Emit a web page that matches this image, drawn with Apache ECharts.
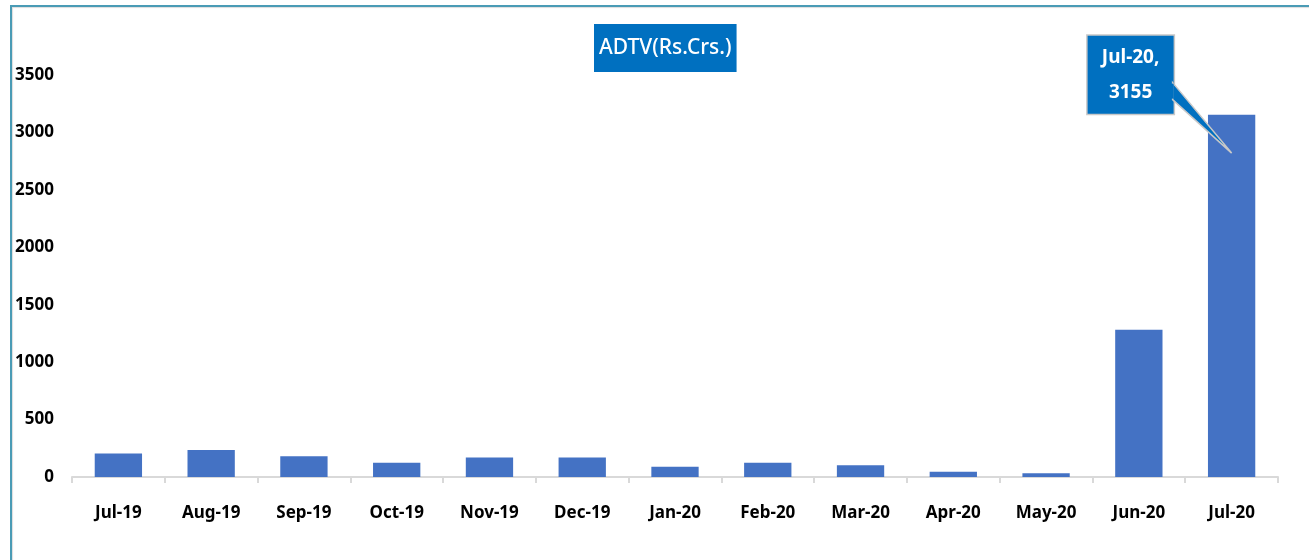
<!DOCTYPE html>
<html>
<head>
<meta charset="utf-8">
<title>ADTV</title>
<script src="https://cdn.jsdelivr.net/npm/echarts@6/dist/echarts.min.js"></script>
<style>
  html, body { margin: 0; padding: 0; background: #fff; }
  #frame {
    position: absolute; left: 0; top: 0; width: 1309px; height: 560px;
    box-sizing: border-box;
  }
  #frame::before {
    content: ''; position: absolute; left: 10px; top: 5px; right: 0; bottom: 0;
    border-left: 2px solid #4a9bb5; border-top: 2px solid #4a9bb5;
    box-shadow: inset 1px 1px 1px #ddd;
  }
  #chart { position: absolute; left: 0; top: 0; width: 1309px; height: 560px; }
</style>
</head>
<body>
<div id="frame"></div>
<div id="chart"></div>
<script>
  // 数据
  const months = ['Jul-19', 'Aug-19', 'Sep-19', 'Oct-19', 'Nov-19', 'Dec-19', 'Jan-20',
    'Feb-20', 'Mar-20', 'Apr-20', 'May-20', 'Jun-20', 'Jul-20']
  const adtv = [205, 235, 180, 125, 170, 170, 90, 125, 102, 46, 32, 1283, 3155]
  const yTicks = [0, 500, 1000, 1500, 2000, 2500, 3000, 3500]

  const chart = echarts.init(document.getElementById('chart'))
  const labelFont = '"Noto Sans", sans-serif'
  const last = adtv.length - 1

  const option = {
    animation: false,
    title: {
      text: 'ADTV(Rs.Crs.)',
      left: 594,
      top: 24,
      padding: [13, 5, 12, 5],
      backgroundColor: '#0070c0',
      textStyle: { color: '#fff', fontSize: 21, fontWeight: 500, fontFamily: labelFont, lineHeight: 23 }
    },
    grid: { left: 72, right: 31, top: 75, bottom: 83 },
    xAxis: {
      type: 'category',
      data: months,
      axisLine: { lineStyle: { color: '#d9d9d9', width: 2 } },
      axisTick: { show: true, length: 6, lineStyle: { color: '#d9d9d9', width: 2 } },
      axisLabel: { color: '#000', fontSize: 17, fontWeight: 'bold', fontFamily: labelFont, margin: 28 }
    },
    yAxis: {
      type: 'value',
      min: yTicks[0],
      max: yTicks[yTicks.length - 1],
      interval: 500,
      splitLine: { show: false },
      axisLine: { show: false },
      axisTick: { show: false },
      axisLabel: {
        color: '#000', fontSize: 17, fontWeight: 'bold', fontFamily: labelFont, margin: 18,
        formatter: v => String(v)
      }
    },
    series: [{
      type: 'bar',
      barWidth: '51%',
      itemStyle: { color: '#4472c4' },
      data: adtv.map((v, i) => i === last ? {
        value: v,
        label: {
          show: true,
          position: 'top',
          distance: 1,
          offset: [-101, 0],
          formatter: '{b},\n{c}',
          color: '#fff',
          fontSize: 19,
          fontWeight: 'bold',
          fontFamily: labelFont,
          lineHeight: 35,
          align: 'center',
          backgroundColor: '#0070c0',
          borderColor: '#c8c8c8',
          borderWidth: 1.5,
          padding: [4, 13, 4, 13],
          width: 60
        }
      } : v)
    }]
  }

  chart.setOption(option)

  // 标注气泡的尖角
  const barTop = chart.convertToPixel({ seriesIndex: 0 }, [months[last], adtv[last]])
  const tip = chart.convertToPixel({ seriesIndex: 0 }, [months[last], 2820])
  const boxRight = barTop[0] - 59
  chart.setOption({
    graphic: [{
      type: 'polygon',
      z: 100,
      shape: { points: [[boxRight, barTop[1] - 32], [tip[0], tip[1]], [boxRight, barTop[1] - 15]] },
      style: { fill: '#0070c0', stroke: '#c8c8c8', lineWidth: 1.5 }
    }, {
      type: 'rect',
      z: 101,
      shape: { x: boxRight - 2, y: barTop[1] - 31, width: 3, height: 15 },
      style: { fill: '#0070c0' }
    }]
  })

  window.addEventListener('resize', () => chart.resize())
</script>
</body>
</html>
